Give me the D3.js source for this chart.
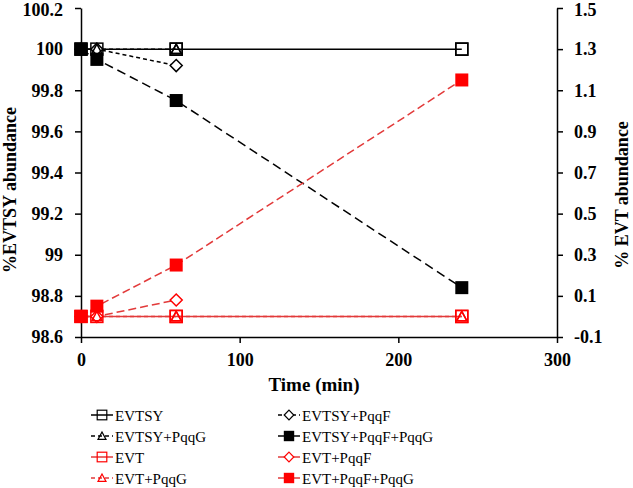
<!DOCTYPE html>
<html><head><meta charset="utf-8">
<script src="https://cdn.jsdelivr.net/npm/d3@7"></script>
<style>body{margin:0;background:#fff;} svg{display:block;}</style>
</head><body>
<svg id="c" width="633" height="488"></svg>
<script>
const times = [0, 10, 60, 240];
const evtsy      = [100, 100, 100, 100];
const evtsyF     = [100, 100, 99.92, null];
const evtsyG     = [100, 100, 100, null];
const evtsyFG    = [100, 99.95, 99.75, 98.84];
const evt        = [0, 0, 0, 0];
const evtF       = [0, 0, 0.08, null];
const evtG       = [0, 0, 0, 0];
const evtFG      = [0, 0.05, 0.25, 1.15];
const xTicks = [0, 100, 200, 300];
const leftTicks = [98.6, 98.8, 99, 99.2, 99.4, 99.6, 99.8, 100, 100.2];
const rightTicks = [-0.1, 0.1, 0.3, 0.5, 0.7, 0.9, 1.1, 1.3, 1.5];

const RED = "#ff0000", RED_LINE = "#e23a3a", BLACK = "#000";
const series = [
  {name:"EVTSY", vals:evtsy, axis:"L", color:BLACK, line:BLACK, dash:null, shape:"square", fill:false},
  {name:"EVTSY+PqqF", vals:evtsyF, axis:"L", color:BLACK, line:BLACK, dash:"4,3", shape:"diamond", fill:false},
  {name:"EVTSY+PqqG", vals:evtsyG, axis:"L", color:BLACK, line:BLACK, dash:"4,3", shape:"triangle", fill:false},
  {name:"EVTSY+PqqF+PqqG", vals:evtsyFG, axis:"L", color:BLACK, line:BLACK, dash:"9,5", shape:"square", fill:true},
  {name:"EVT", vals:evt, axis:"R", color:RED, line:RED_LINE, dash:null, shape:"square", fill:false},
  {name:"EVT+PqqF", vals:evtF, axis:"R", color:RED, line:RED_LINE, dash:"8,4", shape:"diamond", fill:false},
  {name:"EVT+PqqG", vals:evtG, axis:"R", color:RED, line:RED_LINE, dash:"4,3", shape:"triangle", fill:false},
  {name:"EVT+PqqF+PqqG", vals:evtFG, axis:"R", color:RED, line:RED_LINE, dash:"8,4", shape:"square", fill:true}
];

const svg = d3.select("#c");
const L = 81, R = 557, T = 8, B = 337;
const x = d3.scaleLinear().domain([0, 300]).range([L, R]);
const yL = d3.scaleLinear().domain([98.6, 100.2]).range([B, T]);
const yR = d3.scaleLinear().domain([-0.1, 1.5]).range([B, T]);
const font = '"Liberation Serif","Tinos","Times New Roman","DejaVu Serif",serif';

function styleAxis(g, fs) {
  g.attr("font-family", font);
  g.select(".domain").attr("stroke", "#000").attr("stroke-width", 1.5);
  g.selectAll(".tick line").attr("stroke", "#000").attr("stroke-width", 1.5);
  g.selectAll(".tick text").attr("font-family", font).attr("font-weight", "bold")
    .attr("font-size", fs).attr("fill", "#000");
}
const gx = svg.append("g").attr("transform", `translate(0,${B})`)
  .call(d3.axisBottom(x).tickValues(xTicks).tickSize(6).tickSizeOuter(0).tickPadding(10).tickFormat(d3.format("d")));
styleAxis(gx, 18);
const gl = svg.append("g").attr("transform", `translate(${L},0)`)
  .call(d3.axisLeft(yL).tickValues(leftTicks).tickSize(6).tickSizeOuter(0).tickPadding(12).tickFormat(d => String(+d.toFixed(1))));
styleAxis(gl, 18);
const gr = svg.append("g").attr("transform", `translate(${R},0)`)
  .call(d3.axisRight(yR).tickValues(rightTicks).tickSize(6).tickSizeOuter(0).tickPadding(11).tickFormat(d => d.toFixed(1)));
styleAxis(gr, 18);
// keep the top labels inside the picture
gl.selectAll(".tick text").filter(d => d === 100.2).attr("dy", "0.42em");
gr.selectAll(".tick text").filter(d => d === 1.5).attr("dy", "0.42em");

svg.append("text").attr("transform", "translate(16,190) rotate(-90)")
  .attr("text-anchor", "middle").attr("font-family", font).attr("font-weight", "bold")
  .attr("font-size", 18).text("%EVTSY  abundance");
svg.append("text").attr("transform", "translate(628,195) rotate(-90)")
  .attr("text-anchor", "middle").attr("font-family", font).attr("font-weight", "bold")
  .attr("font-size", 18).text("% EVT abundance");
svg.append("text").attr("x", 314).attr("y", 391)
  .attr("text-anchor", "middle").attr("font-family", font).attr("font-weight", "bold")
  .attr("font-size", 19).text("Time (min)");

function drawMarker(g, s, cx, cy) {
  const stroke = s.color, fill = s.fill ? s.color : "#fff";
  if (s.shape === "square") {
    const sz = s.fill ? 13 : 12;
    g.append("rect").attr("x", cx - sz/2).attr("y", cy - sz/2).attr("width", sz).attr("height", sz)
      .attr("fill", s.fill ? fill : "none").attr("stroke", stroke).attr("stroke-width", s.fill ? 0 : 1.5);
  } else if (s.shape === "diamond") {
    const r = 6;
    g.append("path").attr("d", `M${cx},${cy-r}L${cx+r},${cy}L${cx},${cy+r}L${cx-r},${cy}Z`)
      .attr("fill", "#fff").attr("stroke", stroke).attr("stroke-width", 1.5);
  } else {
    const r = 5;
    g.append("path").attr("d", `M${cx},${cy-r}L${cx+r},${cy+r*0.85}L${cx-r},${cy+r*0.85}Z`)
      .attr("fill", "none").attr("stroke", stroke).attr("stroke-width", 1.5);
  }
}

const plot = svg.append("g");
series.forEach(s => {
  const ys = s.axis === "L" ? yL : yR;
  const pts = times.map((t, i) => [t, s.vals[i]]).filter(p => p[1] !== null);
  plot.append("path").datum(pts)
    .attr("d", d3.line().x(p => x(p[0])).y(p => ys(p[1])))
    .attr("fill", "none").attr("stroke", s.line).attr("stroke-width", 1.5)
    .attr("stroke-dasharray", s.dash);
});
const order = [0, 4, 1, 5, 2, 6, 3, 7];
order.forEach(k => {
  const s = series[k];
  const ys = s.axis === "L" ? yL : yR;
  times.forEach((t, i) => {
    if (s.vals[i] === null) return;
    if (s.fill && i > 0) return;
    drawMarker(plot, s, x(t), ys(s.vals[i]));
  });
});
[3, 7].forEach(k => {
  const s = series[k];
  const ys = s.axis === "L" ? yL : yR;
  times.forEach((t, i) => { if (i > 0 && s.vals[i] !== null) drawMarker(plot, s, x(t), ys(s.vals[i])); });
});
[0, 2, 4, 6].forEach(k => {
  const s = series[k];
  const ys = s.axis === "L" ? yL : yR;
  times.forEach((t, i) => { if (i >= 2 && s.vals[i] !== null) drawMarker(plot, s, x(t), ys(s.vals[i])); });
});
[3, 7].forEach(k => {
  const s = series[k];
  const ys = s.axis === "L" ? yL : yR;
  drawMarker(plot, s, x(times[0]), ys(s.vals[0]));
});

const leg = svg.append("g");
const cols = [90, 277];
const rows = [415, 436, 457, 478];
series.forEach((s, i) => {
  const cx = cols[i % 2] + 12, cy = rows[Math.floor(i / 2)];
  const g = leg.append("g");
  g.append("line").attr("x1", cx - 11).attr("x2", cx + 11).attr("y1", cy).attr("y2", cy)
    .attr("stroke", s.line).attr("stroke-width", 1.5)
    .attr("stroke-dasharray", s.dash === "4,3" ? "4,3" : null);
  const sub = g.append("g").attr("transform", `translate(${cx},${cy}) scale(0.8) translate(${-cx},${-cy})`);
  drawMarker(sub, s, cx, cy);
  g.append("text").attr("x", cx + 13).attr("y", cy + 5.5).attr("font-family", font)
    .attr("font-size", 15).attr("fill", "#000").text(s.name);
});
</script>
</body></html>
